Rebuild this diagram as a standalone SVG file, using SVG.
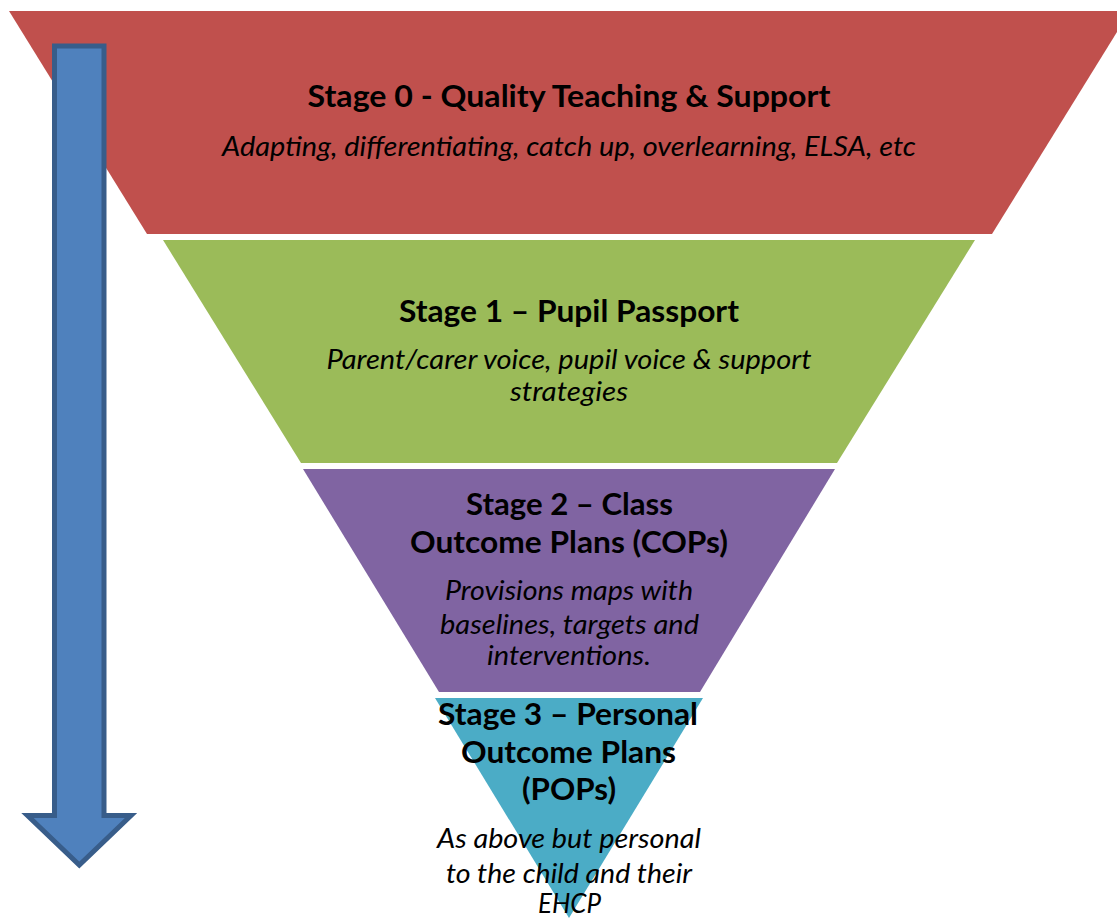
<svg xmlns="http://www.w3.org/2000/svg" width="1117" height="919" viewBox="0 0 1117 919">
  <style>
    .title { font-family: Lato, "Liberation Sans", sans-serif; font-weight: bold; font-size: 30.5px; fill: #000; text-anchor: middle; }
    .desc { font-family: Lato, "Liberation Sans", sans-serif; font-style: italic; font-size: 26.5px; fill: #000; text-anchor: middle; }
  </style>
  <rect width="1117" height="919" fill="#ffffff"/>

  <!-- Funnel stages -->
  <g id="stage0">
    <polygon points="9,11 1130,11 992,234 147,234" fill="#C0504D"/>
    <text class="title" x="569" y="107" textLength="523" lengthAdjust="spacingAndGlyphs">Stage 0 - Quality Teaching &amp; Support</text>
    <text class="desc" x="569" y="156" textLength="694" lengthAdjust="spacingAndGlyphs">Adapting, differentiating, catch up, overlearning, ELSA, etc</text>
  </g>

  <g id="stage1">
    <polygon points="163,240 975,240 837,463 301,463" fill="#9BBB59"/>
    <text class="title" x="569" y="322" textLength="340" lengthAdjust="spacingAndGlyphs">Stage 1 – Pupil Passport</text>
    <text class="desc" x="569" y="369" textLength="485" lengthAdjust="spacingAndGlyphs">Parent/carer voice, pupil voice &amp; support</text>
    <text class="desc" x="569" y="401" textLength="118" lengthAdjust="spacingAndGlyphs">strategies</text>
  </g>

  <g id="stage2">
    <polygon points="303,469 835,469 700,692 439,692" fill="#8064A2"/>
    <text class="title" x="569.5" y="515" textLength="207" lengthAdjust="spacingAndGlyphs">Stage 2 – Class</text>
    <text class="title" x="569" y="553" textLength="318" lengthAdjust="spacingAndGlyphs">Outcome Plans (COPs)</text>
    <text class="desc" x="569" y="600" textLength="248" lengthAdjust="spacingAndGlyphs">Provisions maps with</text>
    <text class="desc" x="569.5" y="634" textLength="259" lengthAdjust="spacingAndGlyphs">baselines, targets and</text>
    <text class="desc" x="569" y="665" textLength="164" lengthAdjust="spacingAndGlyphs">interventions.</text>
  </g>

  <g id="stage3">
    <polygon points="435,698 703,698 569,918" fill="#4BACC6"/>
    <text class="title" x="568" y="725" textLength="260" lengthAdjust="spacingAndGlyphs">Stage 3 – Personal</text>
    <text class="title" x="568.5" y="763" textLength="215" lengthAdjust="spacingAndGlyphs">Outcome Plans</text>
    <text class="title" x="569" y="800" textLength="94" lengthAdjust="spacingAndGlyphs">(POPs)</text>
    <text class="desc" x="569" y="848" textLength="264" lengthAdjust="spacingAndGlyphs">As above but personal</text>
    <text class="desc" x="569" y="883" textLength="246" lengthAdjust="spacingAndGlyphs">to the child and their</text>
    <text class="desc" x="569.5" y="913" textLength="63" lengthAdjust="spacingAndGlyphs">EHCP</text>
  </g>

  <!-- Downward progression arrow -->
  <g id="connectors">
    <path id="progress-arrow" d="M54.5,46 H104 V815.5 H131 L79.3,865 L27.5,815.5 H54.5 Z" fill="#4F81BD" stroke="#385D8A" stroke-width="5" stroke-linejoin="miter"/>
  </g>
</svg>
